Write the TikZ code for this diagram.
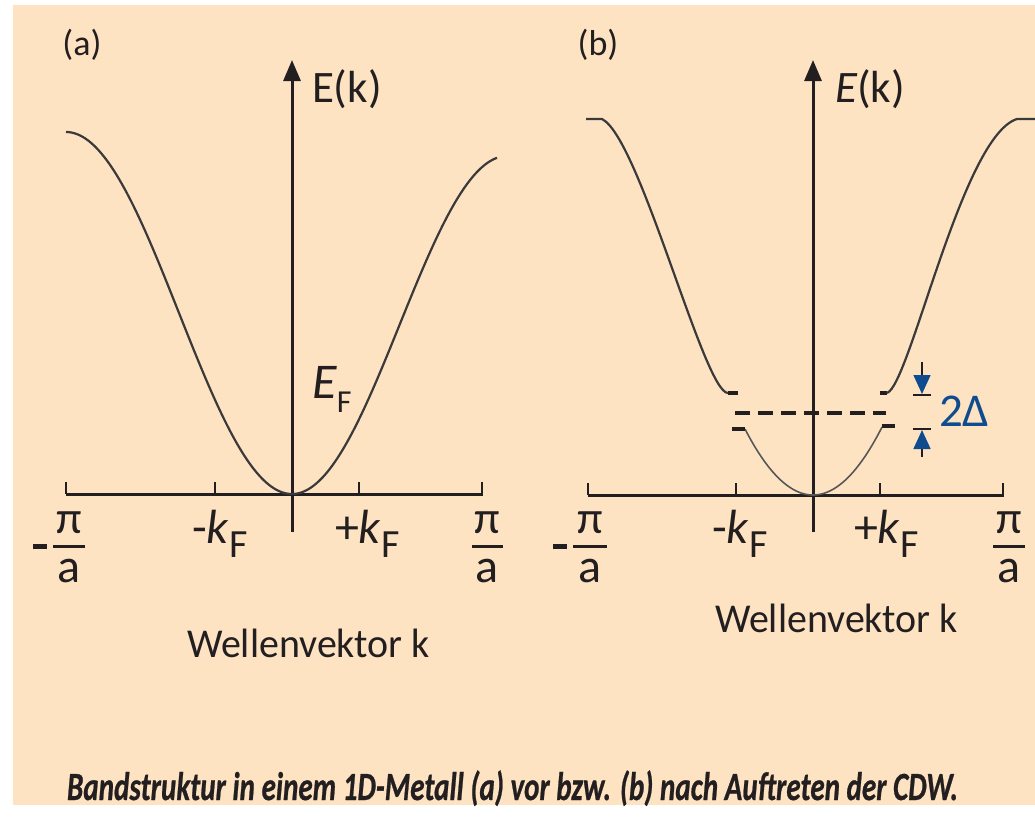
\documentclass[tikz,border=0pt]{standalone}
\usepackage{fontspec}
\setmainfont{Carlito}
\newfontfamily\capfam[FakeBold=0.8]{Carlito}
\usetikzlibrary{arrows.meta}
\definecolor{bg}{HTML}{FEE3C3}
\definecolor{cdwblue}{HTML}{0F4C8F}
\definecolor{ink}{HTML}{231F20}
\definecolor{curvecol}{HTML}{3A3A3A}
\newcommand{\fsz}[1]{\fontsize{#1}{#1}\selectfont}
\newcommand{\kFlabel}[1]{{\fsz{48}#1\textit{k}}\raisebox{-14pt}{\fsz{40}F}}
\begin{document}
\begin{tikzpicture}[x=1pt,y=-1pt,
  axisline/.style={ink,line width=3},
  ticklines/.style={ink,line width=2.5},
  band/.style={curvecol,line width=2.2},
  thinband/.style={curvecol!85,line width=1.6},
  flatbit/.style={ink,line width=3.5},
  lbl/.style={inner sep=0,outer sep=0,text=ink},
  axarrow/.style={-{Triangle[length=21pt,width=17pt]}},
  fracbar/.style={ink,line width=3},
  minusbar/.style={ink,line width=5}]
\useasboundingbox (0,0) rectangle (1035,817);
\fill[white] (0,0) rectangle (1035,817);
\fill[bg] (13,5) rectangle (1035,805);

% ---------------- panel (a) ----------------
\coordinate (aL) at (66,494);
\coordinate (aR) at (483,494);
\coordinate (aO) at (292,494);
\coordinate (aBot) at (292,532);
\coordinate (aTop) at (292,60);
\draw[axisline] (aL) -- (aR);
\draw[axisline,axarrow] (aBot) -- (aTop);
\foreach \t/\n in {66/a1,215/a2,359/a3,482/a4}{
  \coordinate (\n b) at (\t,494); \coordinate (\n t) at (\t,482);
  \draw[ticklines] (\n b) -- (\n t);}
\draw[band] plot[domain=66:292,samples=90] (\x,{494-181*(1-cos((292-\x)/226*180))});
\draw[band] plot[domain=292:497,samples=90] (\x,{494-169*(1-cos((\x-292)/215*180))});

\node[lbl,font=\fsz{36}] (la) at (82,45) {(a)};
\node[lbl,anchor=base west,font=\fsz{45}] (Eka) at (312,102) {E(k)};
\node[lbl,anchor=base west] (EF) at (312,398) {{\fsz{50}\textit{E}}\raisebox{-14pt}{\fsz{32}F}};
\node[lbl,anchor=base west] (kFa1) at (192,543) {\kFlabel{-}};
\node[lbl,anchor=base west] (kFa2) at (335,543) {\kFlabel{+}};
% fractions (a)
\coordinate (amL) at (33,546); \coordinate (amR) at (47,546);
\draw[minusbar] (amL) -- (amR);
\coordinate (afl1) at (53,546); \coordinate (afl2) at (85,546);
\draw[fracbar] (afl1) -- (afl2);
\node[lbl,font=\fsz{46}] (pa1) at (69,523) {π};
\node[lbl,font=\fsz{48}] (aa1) at (69,571) {a};
\coordinate (afr1) at (472,546); \coordinate (afr2) at (503,546);
\draw[fracbar] (afr1) -- (afr2);
\node[lbl,font=\fsz{46}] (pa2) at (487,523) {π};
\node[lbl,font=\fsz{48}] (aa2) at (487,571) {a};
\node[lbl,anchor=base,font=\fsz{41}] (wa) at (308.5,657) {\resizebox{243pt}{\height}{Wellenvektor k}};

% ---------------- panel (b) ----------------
\coordinate (bL) at (588,495);
\coordinate (bR) at (1004,495);
\coordinate (bBot) at (813,532);
\coordinate (bTop) at (813,60);
\draw[axisline] (bL) -- (bR);
\draw[axisline,axarrow] (bBot) -- (bTop);
\foreach \t/\n in {588/b1,736/b2,880/b3,1003/b4}{
  \coordinate (\n b) at (\t,495); \coordinate (\n t) at (\t,483);
  \draw[ticklines] (\n b) -- (\n t);}
% upper band branches
\coordinate (ulA) at (586,119); \coordinate (ulB) at (602,119);
\coordinate (ulC) at (728,393); \coordinate (ulD) at (738,393);
\draw[band] (ulA) -- (ulB) .. controls (640,138) and (704,393) .. (ulC);
\draw[flatbit] (ulC) -- (ulD);
\coordinate (urA) at (880,393); \coordinate (urB) at (887,393);
\coordinate (urC) at (1017,119); \coordinate (urD) at (1035,119);
\draw[flatbit] (urA) -- (urB);
\draw[band] (urB) .. controls (910,385) and (962,136) .. (urC) -- (urD);
% lower band
\draw[thinband] plot[domain=745:882,samples=80] (\x,{495-0.01427*(\x-813)*(\x-813)});
\coordinate (llA) at (732,429); \coordinate (llB) at (745,429);
\draw[flatbit] (llA) -- (llB);
\coordinate (lrA) at (882,426); \coordinate (lrB) at (895,426);
\draw[flatbit] (lrA) -- (lrB);
% Fermi level
\coordinate (efL) at (735,413); \coordinate (efR) at (886,413);
\draw[ink,line width=3.5,dash pattern=on 15pt off 8pt] (efL) -- (efR);
% 2Delta marker
\coordinate (g1) at (922,362); \coordinate (g2) at (922,394);
\coordinate (g3) at (922,457); \coordinate (g4) at (922,430);
\draw[ink,line width=1.5,-{Triangle[length=19pt,width=17pt,color=cdwblue]}] (g1) -- (g2);
\draw[ink,line width=1.5,-{Triangle[length=19pt,width=17pt,color=cdwblue]}] (g3) -- (g4);
\coordinate (gb1) at (913,395); \coordinate (gb2) at (931,395);
\draw[ink,line width=2.5] (gb1) -- (gb2);
\coordinate (gb3) at (913,429); \coordinate (gb4) at (931,429);
\draw[ink,line width=2.5] (gb3) -- (gb4);
\node[lbl,text=cdwblue,anchor=base west,font=\fsz{47}] (delta) at (939,426) {2Δ};

\node[lbl,font=\fsz{36}] (lb) at (598,45) {(b)};
\node[lbl,anchor=base west,font=\fsz{45}] (Ekb) at (835,102) {\textit{E}(k)};
\node[lbl,anchor=base west] (kFb1) at (712,543) {\kFlabel{-}};
\node[lbl,anchor=base west] (kFb2) at (854,543) {\kFlabel{+}};
\coordinate (bmL) at (553,546); \coordinate (bmR) at (567,546);
\draw[minusbar] (bmL) -- (bmR);
\coordinate (bfl1) at (573,546); \coordinate (bfl2) at (607,546);
\draw[fracbar] (bfl1) -- (bfl2);
\node[lbl,font=\fsz{46}] (pb1) at (590,523) {π};
\node[lbl,font=\fsz{48}] (ab1) at (590,571) {a};
\coordinate (bfr1) at (993,546); \coordinate (bfr2) at (1025,546);
\draw[fracbar] (bfr1) -- (bfr2);
\node[lbl,font=\fsz{46}] (pb2) at (1009,523) {π};
\node[lbl,font=\fsz{48}] (ab2) at (1009,571) {a};
\node[lbl,anchor=base,font=\fsz{41}] (wb) at (836.5,632) {\resizebox{243pt}{\height}{Wellenvektor k}};

% caption
\node[lbl,anchor=base,font=\capfam\fsz{40}\bfseries\itshape] (cap) at (512.5,800)
  {\resizebox{891pt}{\height}{Bandstruktur in einem 1D-Metall (a) vor bzw. (b) nach Auftreten der CDW.}};
\end{tikzpicture}
\end{document}
